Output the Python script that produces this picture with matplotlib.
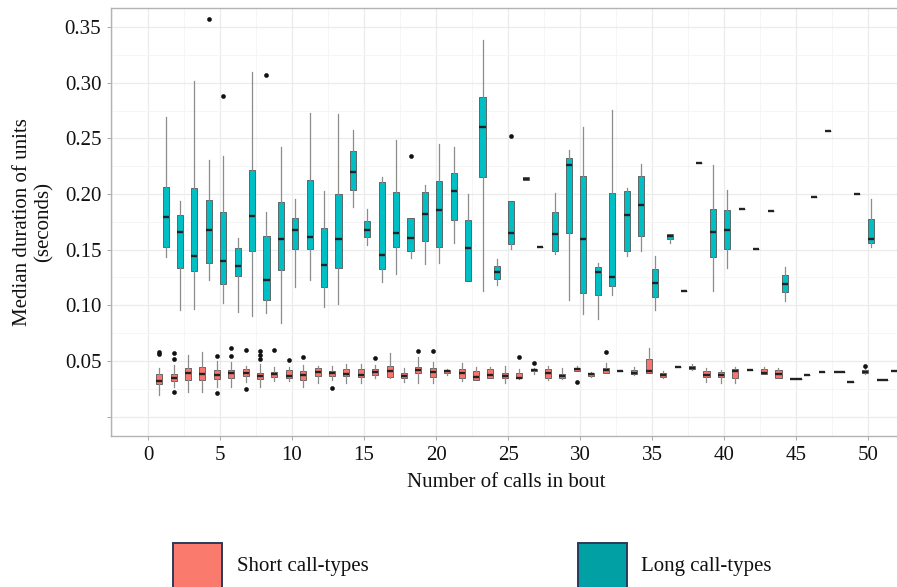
import matplotlib
matplotlib.use('Agg')
import matplotlib.pyplot as plt
from matplotlib.patches import Rectangle
from matplotlib.ticker import MultipleLocator, FixedLocator

plt.rcParams['font.family'] = ['Liberation Serif', 'DejaVu Serif']

calls = list(range(1, 53))

# Short call-types (red)
short_whislo = [.0195, .0269, .0224, .0224, .0269, .0269, .0314, .0269, .0323, .0323,
                .0269, .030, .0329, .0305, .0305, .0345, .0345, .0314, .030, .030,
                .0377, .0323, .0329, .035, .0305, .034, .0383, .0329, .034, .041,
                .0353, .039, .0413, .0378, .0389, .0345, .0449, .042, .0314, .0305,
                .030, .0419, .038, .0345, .0335, .0374, .0404, .0404, .0314, .0386,
                .0329, .0413]
short_q1 = [.0293, .0323, .0329, .0329, .0335, .0345, .0365, .0335, .0353, .035,
            .0329, .0365, .0368, .0368, .0359, .0374, .0359, .035, .0389, .0353,
            .0389, .035, .0329, .035, .0345, .0345, .041, .035, .0345, .0413,
            .0365, .0395, .0413, .038, .0389, .0359, .0449, .0425, .0359, .0353,
            .035, .0419, .0383, .035, .0335, .0374, .0404, .0404, .0314, .0389,
            .0329, .0413]
short_med = [.032, .035, .0395, .038, .0374, .0389, .0395, .0365, .0383, .0365,
             .0374, .0398, .0389, .038, .0374, .0398, .0413, .0368, .0419, .0398,
             .0407, .0389, .0359, .0374, .0365, .035, .0419, .0389, .0365, .0425,
             .0383, .0419, .0413, .0395, .041, .0374, .0449, .044, .0374, .0374,
             .0413, .0419, .0395, .0383, .0335, .0374, .0404, .0404, .0314, .0398,
             .0329, .0413]
short_q3 = [.0383, .0383, .0437, .0449, .0419, .0419, .0431, .0389, .0398, .0419,
            .0413, .0434, .0413, .0428, .0428, .0425, .0455, .0389, .0449, .044,
            .0419, .0425, .0413, .0428, .0395, .0395, .0431, .0425, .0383, .044,
            .0395, .044, .0413, .0419, .0515, .0389, .0449, .0455, .0413, .0404,
            .0428, .0419, .0425, .0419, .0335, .0374, .0404, .0404, .0314, .0419,
            .0329, .0413]
short_whishi = [.0434, .0464, .0554, .0584, .0503, .0494, .0458, .047, .0449, .0449,
                .0464, .0455, .0455, .0473, .0473, .0464, .0569, .0434, .0533, .0494,
                .0431, .0485, .0449, .0449, .0455, .0425, .0434, .0458, .0434, .0455,
                .0404, .0479, .0413, .0449, .0614, .0413, .0449, .0473, .0434, .0419,
                .0443, .0419, .0443, .0434, .0335, .0374, .0404, .0404, .0314, .0434,
                .0329, .0413]
short_fliers = {1: [.0584, .056], 2: [.0575, .0515, .0219], 5: [.0548, .021],
                6: [.0614, .0545], 7: [.0599, .0251], 8: [.0593, .0557, .0515],
                9: [.0599], 10: [.0509], 11: [.0539], 13: [.026], 16: [.0524],
                19: [.059], 20: [.059], 26: [.0533], 27: [.0479], 30: [.0314],
                32: [.0584], 50: [.0458]}

# Long call-types (teal)
long_whislo = [.143, .0958, .097, .1228, .1018, .0937, .0907, .0928, .0839, .1162,
               .1228, .0982, .1012, .188, .1545, .1213, .1281, .1428, .1369, .1383,
               .1563, .1219, .1131, .118, .1503, .2124, .1524, .1461, .1048, .0922,
               .088, .1096, .1443, .1491, .0958, .1563, .1131, .2278, .1131, .1332,
               .1863, .1509, .1847, .1042, None, .1976, .2566, None, .200, .1527,
               None, None]
long_q1 = [.1527, .1338, .1306, .1378, .1189, .1263, .1485, .1048, .1317, .1506,
           .1503, .1167, .1335, .2039, .1617, .1323, .1521, .1491, .1578, .1527,
           .1766, .1219, .2153, .1239, .1549, .2124, .1524, .1485, .1653, .1111,
           .109, .1174, .1491, .1623, .1078, .1599, .1131, .2278, .1437, .1509,
           .1863, .1509, .1847, .1117, None, .1976, .2566, None, .200, .156,
           None, None]
long_med = [.179, .166, .144, .1677, .140, .1353, .1805, .1228, .1593, .1677,
            .1617, .1362, .1599, .2198, .1677, .1449, .1653, .1605, .1823, .1859,
            .2027, .1512, .2602, .1297, .1653, .2138, .1524, .1638, .2258, .1596,
            .1297, .1252, .1811, .1898, .12, .1623, .1131, .2278, .1656, .168,
            .1863, .1509, .1847, .1192, None, .1976, .2566, None, .200, .1596,
            None, None]
long_q3 = [.2066, .181, .2054, .195, .184, .1512, .2216, .1623, .1931, .1787,
           .2126, .1695, .200, .2389, .1758, .2105, .2015, .1787, .2018, .2114,
           .2185, .1766, .2874, .1356, .1937, .2153, .1524, .1835, .2323, .2165,
           .1341, .2006, .2027, .2165, .1326, .1638, .1131, .2278, .1868, .1859,
           .1863, .1509, .1847, .1272, None, .1976, .2566, None, .200, .1776,
           None, None]
long_whishi = [.269, .194, .3015, .2306, .2344, .1602, .3099, .184, .2425, .1955,
               .2725, .2027, .2716, .2575, .1863, .2155, .2485, .1787, .2081, .2446,
               .2425, .1997, .3386, .1413, .1937, .2153, .1524, .2006, .2395, .2602,
               .1383, .2758, .2051, .2267, .1443, .1638, .1131, .2278, .2258, .2033,
               .1863, .1509, .1847, .1347, None, .1976, .2566, None, .200, .1952,
               None, None]
long_fliers = {4: [.357], 5: [.2883], 8: [.3066], 18: [.2339], 25: [.2521]}

x_ticks = [0, 5, 10, 15, 20, 25, 30, 35, 40, 45, 50]
y_ticks = [0.0, 0.05, 0.10, 0.15, 0.20, 0.25, 0.30, 0.35]
y_ticklabels = ['', '0.05', '0.10', '0.15', '0.20', '0.25', '0.30', '0.35']

SHORT_COL = '#F8766D'
LONG_COL = '#00BFC4'

fig = plt.figure(figsize=(8.97, 5.87), dpi=100)
ax = fig.add_axes([111 / 897, (587 - 436) / 587, (902 - 111) / 897, (436 - 8) / 587])

def build(c, lo, q1, md, q3, hi, fl):
    return dict(whislo=lo, q1=q1, med=md, q3=q3, whishi=hi, fliers=fl.get(c, []))

s_stats, s_pos, s_w = [], [], []
l_stats, l_pos, l_w = [], [], []
for i, c in enumerate(calls):
    has_s = short_med[i] is not None
    has_l = long_med[i] is not None
    both = has_s and has_l
    if has_s:
        s_stats.append(build(c, short_whislo[i], short_q1[i], short_med[i],
                             short_q3[i], short_whishi[i], short_fliers))
        s_pos.append(c - 0.225 if both else c)
        s_w.append(0.42 if both else 0.8)
    if has_l:
        l_stats.append(build(c, long_whislo[i], long_q1[i], long_med[i],
                             long_q3[i], long_whishi[i], long_fliers))
        l_pos.append(c + 0.225 if both else c)
        l_w.append(0.42 if both else 0.8)

common = dict(patch_artist=True, showcaps=False, manage_ticks=False,
              whiskerprops=dict(color='#8c8c8c', lw=0.9),
              medianprops=dict(color='#222222', lw=1.7, solid_capstyle='butt'),
              flierprops=dict(marker='o', markerfacecolor='#111111',
                              markeredgecolor='#111111', markersize=2.9,
                              markeredgewidth=0.4))
ax.bxp(s_stats, positions=s_pos, widths=s_w,
       boxprops=dict(facecolor=SHORT_COL, edgecolor='#555555', lw=0.6), **common)
ax.bxp(l_stats, positions=l_pos, widths=l_w,
       boxprops=dict(facecolor=LONG_COL, edgecolor='#555555', lw=0.6), **common)

ax.set_xlim(-2.57, 52.35)
ax.set_ylim(-0.0174, 0.3671)
ax.xaxis.set_major_locator(FixedLocator(x_ticks))
ax.xaxis.set_minor_locator(MultipleLocator(2.5))
ax.yaxis.set_major_locator(FixedLocator(y_ticks))
ax.yaxis.set_minor_locator(MultipleLocator(0.025))
ax.set_xticklabels([str(t) for t in x_ticks])
ax.set_yticklabels(y_ticklabels)
ax.grid(which='major', color='#ebebeb', lw=0.9)
ax.grid(which='minor', color='#f4f4f4', lw=0.6)
ax.set_axisbelow(True)
ax.tick_params(which='major', length=3, width=0.6, color='#999999',
               labelsize=15, labelcolor='#111111', pad=4)
ax.tick_params(which='minor', length=0)
for side in ['left', 'bottom', 'top']:
    ax.spines[side].set_color('#b3b3b3')
    ax.spines[side].set_linewidth(1.0)
ax.spines['right'].set_visible(False)

ax.set_xlabel('Number of calls in bout', fontsize=15, labelpad=6, color='#111111')
fig.text(33 / 897, (587 - 222) / 587, 'Median duration of units\n(seconds)',
         rotation=90, ha='center', va='center', fontsize=15, color='#111111',
         linespacing=1.15, multialignment='center')

# legend (keys cut at the bottom edge as in the reference)
fig.add_artist(Rectangle((173 / 897, -0.05), 49 / 897, (587 - 543) / 587 + 0.05,
                         transform=fig.transFigure, facecolor='#FA7A6E',
                         edgecolor='#2b3a5c', lw=1.4))
fig.add_artist(Rectangle((578 / 897, -0.05), 49 / 897, (587 - 543) / 587 + 0.05,
                         transform=fig.transFigure, facecolor='#00A0A4',
                         edgecolor='#2b3a5c', lw=1.4))
fig.text(237 / 897, (587 - 567) / 587, 'Short call-types', fontsize=15,
         ha='left', va='center', color='#111111')
fig.text(641 / 897, (587 - 567) / 587, 'Long call-types', fontsize=15,
         ha='left', va='center', color='#111111')

fig.savefig('out.png', dpi=100)
